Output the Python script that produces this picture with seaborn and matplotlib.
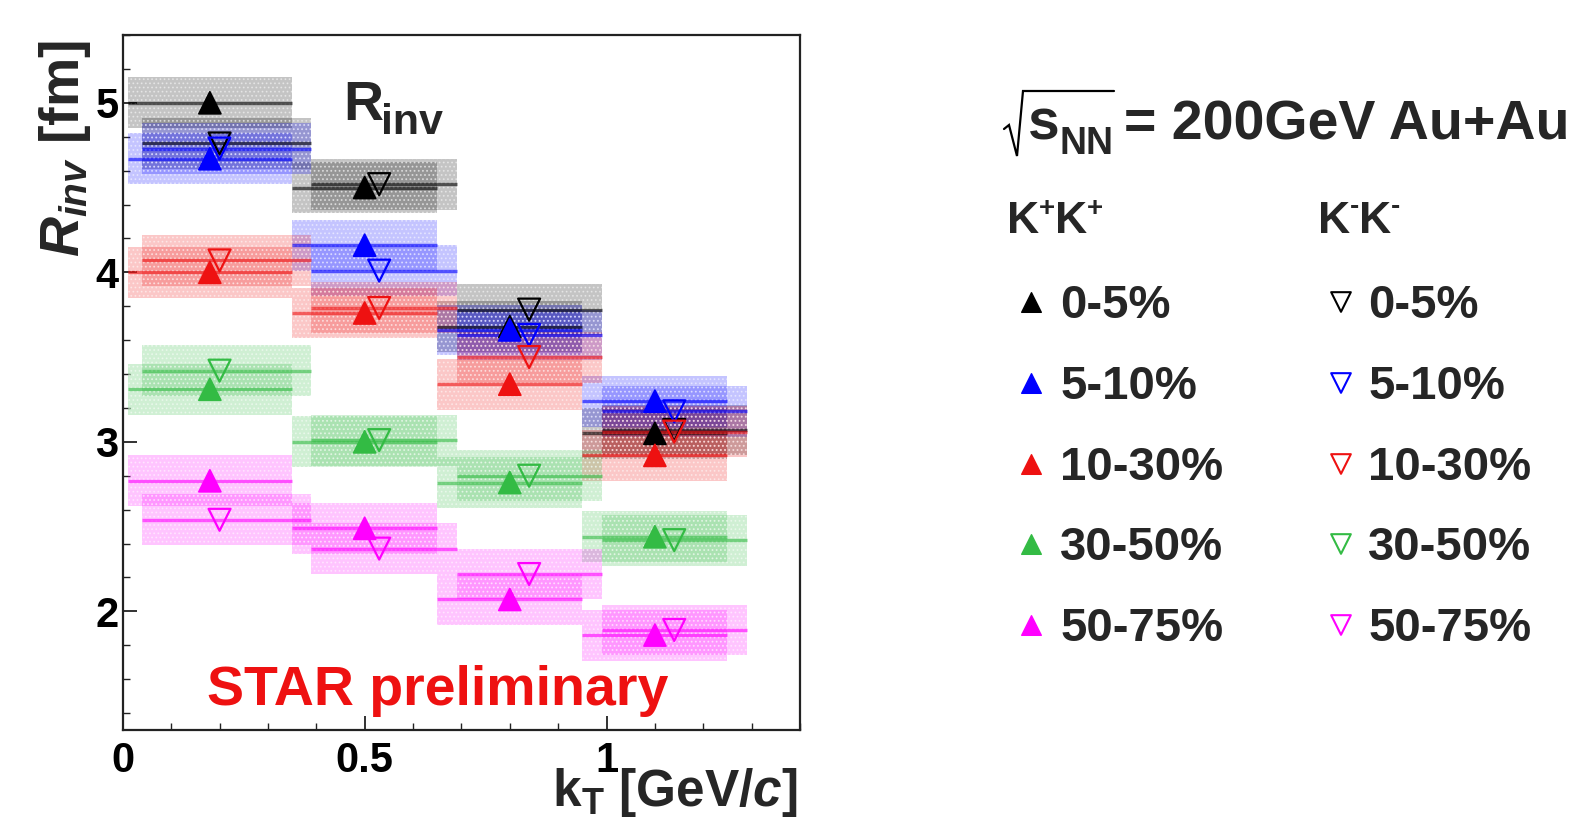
import matplotlib
matplotlib.use("Agg")
import matplotlib.pyplot as plt
import numpy as np
import pandas as pd
import seaborn as sns

# --- dados ---
CENTRALITY = ["0-5%", "5-10%", "10-30%", "30-50%", "50-75%"]
COLORS = ["#000000", "#0000ff", "#ee1111", "#33bb44", "#ff00ff"]

KT_PLUS = [0.18, 0.50, 0.80, 1.10]
KT_MINUS = [0.20, 0.53, 0.84, 1.14]
BIN_LO_PLUS = [0.01, 0.35, 0.65, 0.95]
BIN_HI_PLUS = [0.35, 0.65, 0.95, 1.25]
BIN_LO_MINUS = [0.04, 0.39, 0.69, 0.99]
BIN_HI_MINUS = [0.39, 0.69, 0.99, 1.29]

# K+K+
RINV_PLUS_0_5 = [5.00, 4.50, 3.68, 3.05]
RINV_PLUS_5_10 = [4.67, 4.16, 3.66, 3.24]
RINV_PLUS_10_30 = [4.00, 3.76, 3.34, 2.92]
RINV_PLUS_30_50 = [3.31, 3.00, 2.76, 2.44]
RINV_PLUS_50_75 = [2.77, 2.49, 2.07, 1.86]
# K-K-
RINV_MINUS_0_5 = [4.76, 4.52, 3.78, 3.07]
RINV_MINUS_5_10 = [4.73, 4.01, 3.63, 3.18]
RINV_MINUS_10_30 = [4.07, 3.79, 3.50, 3.06]
RINV_MINUS_30_50 = [3.42, 3.01, 2.80, 2.42]
RINV_MINUS_50_75 = [2.54, 2.37, 2.22, 1.89]
# erro sistematico (meia altura das caixas)
SYS_PLUS = [0.15, 0.15, 0.15, 0.15]
SYS_MINUS = [0.15, 0.15, 0.15, 0.15]

RINV_PLUS = [RINV_PLUS_0_5, RINV_PLUS_5_10, RINV_PLUS_10_30, RINV_PLUS_30_50, RINV_PLUS_50_75]
RINV_MINUS = [RINV_MINUS_0_5, RINV_MINUS_5_10, RINV_MINUS_10_30, RINV_MINUS_30_50, RINV_MINUS_50_75]

sns.set_style("ticks")
plt.rcParams["font.family"] = ["Liberation Sans", "DejaVu Sans"]
plt.rcParams["font.weight"] = "bold"
plt.rcParams["mathtext.fontset"] = "custom"
plt.rcParams["mathtext.rm"] = "Liberation Sans:bold"
plt.rcParams["mathtext.bf"] = "Liberation Sans:bold"
plt.rcParams["mathtext.it"] = "Liberation Sans:bold:italic"
plt.rcParams["hatch.linewidth"] = 0.8

W, H = 1569, 819
fig = plt.figure(figsize=(W / 100, H / 100), dpi=100)

# eixo auxiliar em pixels para textos e legenda
lax = fig.add_axes([0, 0, 1, 1], zorder=0)
lax.set_xlim(0, W)
lax.set_ylim(H, 0)
lax.axis("off")

ax = fig.add_axes([122.8 / W, (H - 730) / H, (800 - 122.8) / W, (730 - 35) / H], zorder=1)
ax.patch.set_alpha(0)

rows = []
for cent, color, yp, ym in zip(CENTRALITY, COLORS, RINV_PLUS, RINV_MINUS):
    for pair, kt, yy, lo, hi, sy in [
        ("K+K+", KT_PLUS, yp, BIN_LO_PLUS, BIN_HI_PLUS, SYS_PLUS),
        ("K-K-", KT_MINUS, ym, BIN_LO_MINUS, BIN_HI_MINUS, SYS_MINUS),
    ]:
        lo = np.array(lo)
        hi = np.array(hi)
        yy = np.array(yy)
        sy = np.array(sy)
        ax.bar(lo, 2 * sy, width=hi - lo, bottom=yy - sy, align="edge",
               color=matplotlib.colors.to_rgba(color, 0.23),
               edgecolor=(1, 1, 1, 0.45),
               hatch="....", linewidth=0, zorder=1)
        ax.hlines(yy, lo, hi, color=color, alpha=0.6, linewidth=2.4, zorder=2)
        for k, v in zip(kt, yy):
            rows.append({"kt": k, "rinv": v, "centrality": cent, "pair": pair})

df = pd.DataFrame(rows)
palette = dict(zip(CENTRALITY, COLORS))

sns.scatterplot(data=df[df["pair"] == "K+K+"], x="kt", y="rinv", hue="centrality",
                palette=palette, marker="^", s=250, edgecolor="face",
                legend=False, ax=ax, zorder=3)
for cent, color in zip(CENTRALITY, COLORS):
    sub = df[(df["pair"] == "K-K-") & (df["centrality"] == cent)]
    sns.scatterplot(data=sub, x="kt", y="rinv", marker="v", s=250, color=color,
                    facecolor="none", edgecolor=color, linewidth=1.6,
                    legend=False, ax=ax, zorder=3)

ax.set_xlim(0, 1.4)
ax.set_ylim(1.3, 5.4)
ax.set_xticks([0, 0.5, 1])
ax.set_xticklabels(["0", "0.5", "1"])
ax.set_yticks([2, 3, 4, 5])
ax.set_xticks(np.arange(0, 1.41, 0.1), minor=True)
ax.set_yticks(np.arange(1.4, 5.41, 0.2), minor=True)
ax.set_xlabel("")
ax.set_ylabel("")
ax.tick_params(axis="both", which="both", direction="in", colors="#222222")
ax.tick_params(axis="both", which="major", length=10, width=1.3)
ax.tick_params(axis="both", which="minor", length=5, width=1.0)
ax.tick_params(axis="x", labelsize=30, pad=8, labelcolor="black")
ax.tick_params(axis="y", labelsize=30, pad=3, labelcolor="black")
for sp in ax.spines.values():
    sp.set_linewidth(1.6)
    sp.set_color("#222222")

# titulos dos eixos
lax.text(65, 149, r"$R_{inv}$ [fm]", rotation=90, ha="center", va="center",
         fontsize=40, fontweight="bold")
lax.text(798, 806, r"k$_{\mathbf{T}}$ [GeV/$c$]", ha="right", va="baseline",
         fontsize=37, fontweight="bold")

# anotacoes no painel
lax.text(343, 120, "R", ha="left", va="baseline", fontsize=40, fontweight="bold")
lax.text(381, 134, "inv", ha="left", va="baseline", fontsize=31, fontweight="bold")
lax.text(207, 705, "STAR preliminary", ha="left", va="baseline", fontsize=40,
         fontweight="bold", color="#ee1111")

# legenda: raiz desenhada a mao
lax.plot([1004, 1009, 1017, 1023, 1114], [129, 125, 156, 91, 91], color="black",
         linewidth=1.6, solid_joinstyle="miter")
lax.text(1028, 140, "s", ha="left", va="baseline", fontsize=41, fontweight="bold")
lax.text(1059, 154, "NN", ha="left", va="baseline", fontsize=27, fontweight="bold")
lax.text(1124, 140, "= 200GeV Au+Au", ha="left", va="baseline", fontsize=40,
         fontweight="bold")
# cabecalhos K+K+ e K-K-
lax.text(1007, 233, "K", ha="left", va="baseline", fontsize=32, fontweight="bold")
lax.text(1039, 216, "+", ha="left", va="baseline", fontsize=20, fontweight="bold")
lax.text(1055, 233, "K", ha="left", va="baseline", fontsize=32, fontweight="bold")
lax.text(1087, 216, "+", ha="left", va="baseline", fontsize=20, fontweight="bold")
lax.text(1318, 233, "K", ha="left", va="baseline", fontsize=32, fontweight="bold")
lax.text(1350, 214, "-", ha="left", va="baseline", fontsize=20, fontweight="bold")
lax.text(1359, 233, "K", ha="left", va="baseline", fontsize=32, fontweight="bold")
lax.text(1391, 214, "-", ha="left", va="baseline", fontsize=20, fontweight="bold")
row_y = [302, 383, 464, 544, 625]
for cent, color, ry in zip(CENTRALITY, COLORS, row_y):
    lax.scatter([1031], [ry], marker="^", s=200, color=color, edgecolor=color)
    lax.scatter([1341], [ry], marker="v", s=200, facecolor="none", edgecolor=color,
                linewidth=1.5)
    lax.text(1060, ry + 16, cent, ha="left", va="baseline", fontsize=34, fontweight="bold")
    lax.text(1368, ry + 16, cent, ha="left", va="baseline", fontsize=34, fontweight="bold")

fig.savefig("out.png", dpi=100)
